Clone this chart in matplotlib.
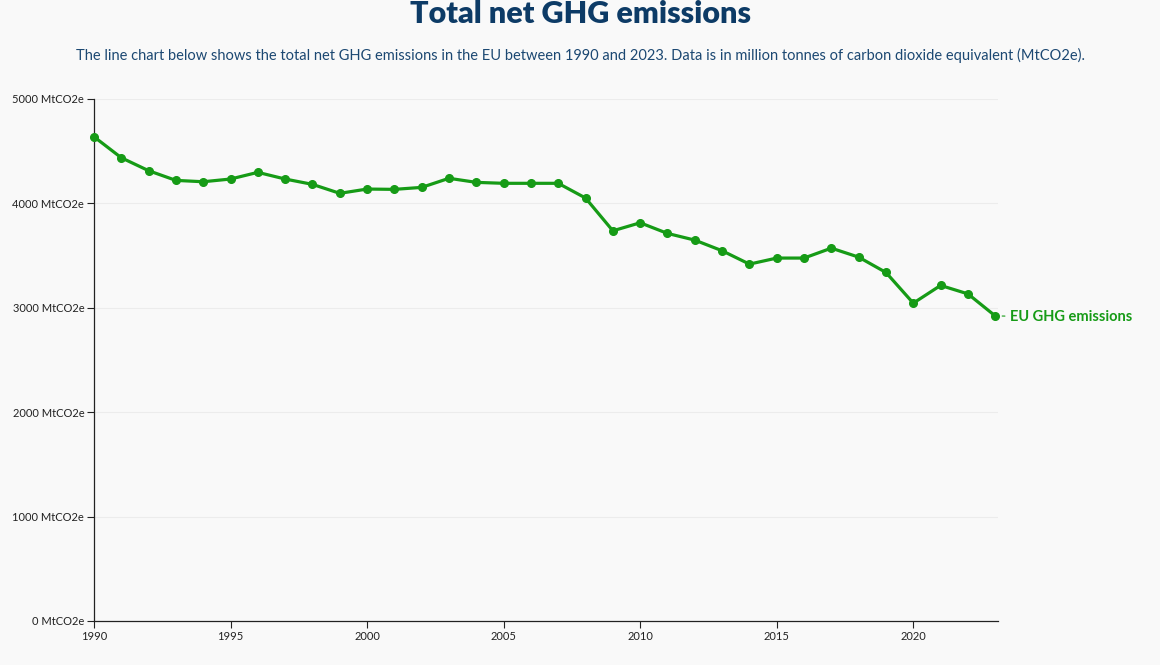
import matplotlib
matplotlib.use("Agg")
import matplotlib.pyplot as plt

years = list(range(1990, 2024))
emissions = [4638, 4437, 4313, 4220, 4207, 4233, 4297, 4233, 4182, 4096,
             4137, 4134, 4153, 4240, 4201, 4192, 4192, 4192, 4051, 3737,
             3814, 3712, 3648, 3546, 3418, 3476, 3476, 3571, 3485, 3338,
             3044, 3214, 3133, 2922]
y_ticks = [0, 1000, 2000, 3000, 4000, 5000]
x_ticks = [1990, 1995, 2000, 2005, 2010, 2015, 2020]
series_label = "EU GHG emissions"

plt.rcParams['font.family'] = ['Lato', 'DejaVu Sans']

bg = '#f9f9f9'
green = '#169b16'
navy = '#0d3b66'

fig = plt.figure(figsize=(11.6, 6.65), dpi=100, facecolor=bg)
ax = fig.add_axes([0.081, 0.0662, 0.7793, 0.785], facecolor=bg)

ax.plot(years, emissions, color=green, lw=2.3, marker='o', markersize=5.5,
        solid_joinstyle='round', zorder=3, clip_on=False)

ax.set_xlim(1990, 2023.1)
ax.set_ylim(0, 5000)
ax.set_yticks(y_ticks)
ax.set_yticklabels([f'{v} MtCO2e' for v in y_ticks])
ax.set_xticks(x_ticks)
ax.set_xticklabels([str(v) for v in x_ticks])
ax.tick_params(axis='both', labelsize=8, length=5, width=0.8, color='#222222',
               labelcolor='#222222', pad=2)

ax.grid(axis='y', color='#ececec', lw=0.8)
ax.set_axisbelow(True)
for s in ['top', 'right']:
    ax.spines[s].set_visible(False)
for s in ['left', 'bottom']:
    ax.spines[s].set_color('#222222')
    ax.spines[s].set_linewidth(0.9)

# end label
ax.annotate(series_label, xy=(years[-1], emissions[-1]), xytext=(11, -1),
            textcoords='offset points', va='center', ha='left',
            color=green, fontsize=10.5, fontweight='bold',
            arrowprops=dict(arrowstyle='-', color=green, lw=0.8,
                            shrinkA=2, shrinkB=5))

fig.text(0.5, 0.979, 'Total net GHG emissions', ha='center', va='center',
         fontsize=22, fontweight='heavy', color=navy)
fig.text(0.5, 0.917, 'The line chart below shows the total net GHG emissions in the EU '
         'between 1990 and 2023. Data is in million tonnes of carbon dioxide '
         'equivalent (MtCO2e).', ha='center', va='center', fontsize=10.5,
         color='#1c4872')

fig.savefig('out.png', dpi=100, facecolor=bg)
